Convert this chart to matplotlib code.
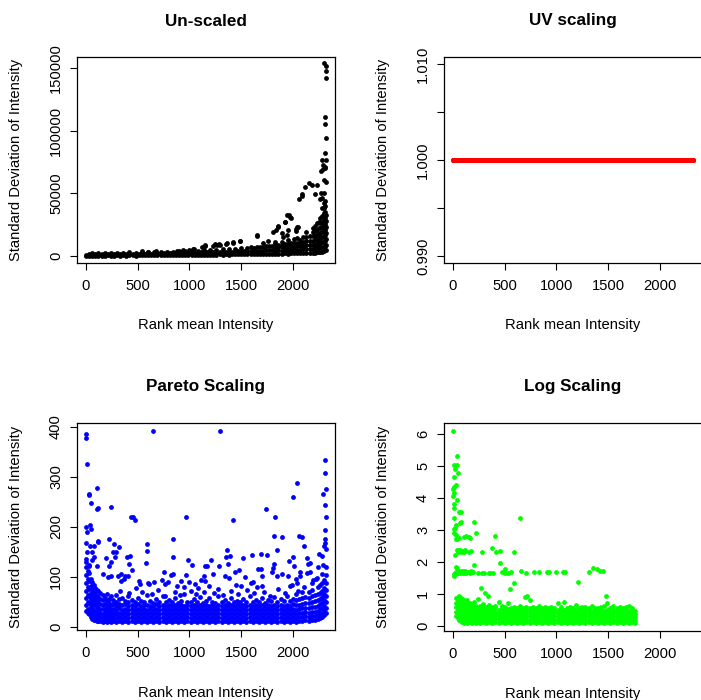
import numpy as np
import matplotlib
matplotlib.use("Agg")
import matplotlib.pyplot as plt

plt.rcParams['font.family'] = ['Liberation Sans', 'DejaVu Sans']

# ranks of the features (x axis of every panel)
n_features = 2320

titles = ["Un-scaled", "UV scaling", "Pareto Scaling", "Log Scaling"]
x_label = "Rank mean Intensity"
y_label = "Standard Deviation of Intensity"

# ---- Un-scaled: dense band, "rank: sd sd ..." ----
unscaled_band = """
0: 0 800
30: 200 1200
60: 100 900 2000
90: 300 1300
120: 200 1100 2300
150: 300 1400
180: 200 1000 2100
210: 400 1500
240: 300 1200 2400
270: 200 1300
300: 400 1500 2600
330: 300 1200
360: 400 1600 2500
390: 300 1400
420: 500 1700 2800
450: 400 1500
480: 300 1300 2600
510: 500 1800
540: 400 1600 3000
570: 500 1700
600: 400 1500 2900
630: 600 1900
660: 500 1700 3100
690: 600 2000
720: 500 1800 3000
750: 700 2100
780: 600 1900 3300
810: 700 2200
840: 600 2000 3500
870: 800 2300
900: 700 2100 3600
930: 800 2400
960: 700 2200 3800
990: 900 2500
1020: 800 2400 4000
1050: 900 2600
1080: 800 2500 4200
1110: 1000 2800
1140: 900 2600 4500
1170: 1000 2900
1200: 900 2800 4700
1230: 1100 3000
1260: 1000 2900 5000
1290: 1200 3200
1320: 1100 3000 5200
1350: 1200 3300
1380: 1100 3100 5500
1410: 1300 3500
1440: 1200 3300 5800
1470: 1300 3600
1500: 1200 3500 6000
1530: 1400 3800
1560: 1300 3600 6300
1590: 1500 4000 6800
1620: 1400 3800 6500
1650: 1500 4200 7200
1680: 1600 4000 7000
1710: 1500 4300 7500
1740: 1700 4500 7800
1770: 1600 4400 7600
1800: 1800 4800 8200
1830: 1700 4200 6800 9500 11000
1860: 1900 4500 7000 8500
1890: 1800 4300 6800 9000 11500
1920: 2000 4600 7200 9600
1950: 1900 4500 7000 9500 12500
1980: 2100 4800 7500 10000
2010: 2000 4700 7400 10000 13500
2040: 2200 5000 7800 10500 14500
2070: 2100 4800 7600 10400 13000
2100: 2300 5200 8200 11200 15000
2130: 2400 5400 8500 11600 15000 19000
2160: 2500 5500 8600 11800 16000
2190: 2600 5600 8800 12200 15800 19500 22000
2210: 2700 5800 9000 12500 16000 20000 24000
2230: 2800 6000 9400 13000 16800 21000 26000
2250: 3000 6300 9800 13500 17500 22000 27000
2265: 3200 6600 10200 14000 18000 22000 26000 30000
2280: 3500 7000 10800 14800 19000 23000 27500 32000 38000
2295: 4000 7500 11500 15500 20000 24500 29000 34000 38000 42000
2310: 4500 8000 12000 16500 21000 25500 30000 35000 40000 44000
2320: 5000 9000 13500 18000 23000 28000 33000
"""
unscaled_rank = [2302, 2315, 2321, 2318, 2309, 2309, 2318, 2312, 2283, 2318,
                 2313, 2305, 2289, 2267, 2286, 2296, 2318, 2231, 2154, 2119,
                 2084, 2061, 2183, 2267, 2277, 2302, 2215, 2260, 2090,
                 1964, 1980, 1922, 1858, 1832, 1803, 2045, 2026, 1945, 1974,
                 1919, 1851, 2035, 2029, 1955, 1945, 1649, 1652, 1488, 1423,
                 1758, 1706, 1897, 1900, 1359, 1294, 1262, 1230, 1150, 1117,
                 1037, 998, 1484, 1417, 1356, 1288, 1243, 1147, 1040, 937,
                 676, 880, 540, 600]
unscaled_sd = [153800, 152000, 147900, 142000, 111000, 105500, 94400, 82400,
               76600, 76800, 70200, 71000, 72400, 67600, 69200, 60400, 59000,
               56600, 58300, 55300, 49200, 45700, 56400, 50500, 46500, 50000,
               49200, 45700, 48000,
               32500, 30100, 27100, 23900, 20700, 19400, 23100, 21300, 32400,
               30800, 27300, 23400, 23000, 19800, 20700, 16400, 16400, 16200,
               12200, 11200, 11700, 10600, 18100, 15500, 10600, 8800, 9000,
               8000, 8000, 7400, 5300, 4800, 12200, 10600, 9800, 9300, 9300,
               8800, 5600, 4800, 4200, 4000, 3600, 3300]

# ---- Pareto scaling ----
pareto_band = """
0: 31 44 58 72 88 104 120 136
15: 27 36 50 64 80 96 112
30: 25 33 47 61 76 92 108 124
45: 20 30 42 55 68 82 96
60: 16 26 38 50 62 75 90
75: 14 24 34 46 58 70 84
90: 13 21 31 43 54 66 78
105: 12 20 29 40 51 62 74
120: 11 19 28 38 48 59 71
140: 12 20 27 36 46 56 67
160: 10 18 26 35 44 54 63
180: 11 19 27 36 45 58
200: 10 17 25 33 42 52 66
220: 12 20 28 37 47 56
240: 10 18 26 34 44 61
260: 11 19 27 35 45 53
290: 10 17 25 33 42 50 64
320: 12 20 28 37 46 55
350: 10 18 26 34 43 57
380: 11 19 27 36 45 52
410: 10 17 25 33 41 49 62
440: 12 19 27 35 44 54
470: 10 18 26 34 42 50
500: 11 20 28 36 45 58
530: 10 17 25 33 41 52
560: 12 19 27 35 44 50
590: 10 18 26 34 43 63
620: 11 19 27 35 42 51
650: 10 17 25 33 41 48
680: 12 20 28 36 45 56
710: 10 18 26 34 42 50
740: 11 19 27 35 44 61
770: 10 17 25 33 41 49
800: 12 20 28 36 44 53
830: 10 18 26 34 42 50
860: 11 19 27 35 43 58
890: 10 17 25 33 41 48
920: 12 20 28 36 44 52
950: 10 18 26 34 42 65
980: 11 19 27 35 43 50
1010: 10 17 25 33 41 49
1040: 12 20 28 36 44 55
1070: 10 18 26 34 42 50
1100: 11 19 27 35 43 60
1130: 10 17 25 33 41 48
1160: 12 20 28 36 44 52
1190: 10 18 26 34 42 57
1220: 11 19 27 35 43 50
1250: 9 17 25 33 41 48
1280: 12 20 28 36 44 62
1310: 10 18 26 34 42 50
1340: 11 19 27 35 43 53
1370: 10 17 25 33 41 48
1400: 12 20 28 36 44 58
1430: 10 18 26 34 42 50
1460: 11 19 27 35 43 52
1490: 10 17 25 33 41 49
1520: 12 20 28 36 44 56
1550: 10 18 26 34 42 50
1580: 11 19 27 35 43 61
1610: 10 17 25 33 41 49
1640: 12 20 28 36 44 53
1670: 10 18 26 34 42 50
1700: 11 19 27 35 43 58
1730: 10 17 25 33 41 48
1760: 12 20 28 36 44 54
1790: 10 18 26 34 42 52
1820: 11 19 27 35 43 60
1850: 10 17 25 33 41 50
1880: 12 20 28 36 44 55
1910: 10 18 26 34 42 52
1940: 11 19 27 35 44 62
1970: 10 17 25 33 42 51
2000: 12 20 28 36 45 56
2030: 10 18 26 34 43 53 66
2060: 11 19 27 35 44 55
2090: 12 20 28 37 46 57 69
2120: 13 21 29 38 48 60
2150: 12 20 28 37 47 58 70
2180: 14 22 30 39 49 61 74
2210: 13 21 30 40 51 63
2240: 15 23 32 42 53 66 80
2260: 18 26 35 45 56 68 84
2280: 20 28 38 48 60 72 88
2300: 24 32 42 54 66 78 94
2315: 28 38 50 62 74 88 104 120
"""
pareto_rank = [0, 0, 7, 106, 32, 30, 45, 113, 110, 239, 647, 432, 454, 476,
               969, 3, 39, 10, 48, 219, 840, 589, 586, 576, 843, 988, 1024,
               3, 116, 119, 77, 42, 10, 58, 267, 316, 293, 261, 190, 283, 245,
               219, 106, 80, 55, 3, 29, 396, 425, 412, 444, 341, 338, 380, 406,
               312, 512, 525, 609, 654, 734, 766, 821, 837, 879, 921, 963, 992,
               1056, 1111, 1153, 1153, 750, 167, 209, 242,
               1294, 1423, 1742, 1829, 1999, 2035, 2312, 2312, 2315, 2292,
               2308, 2318, 2312, 2312, 2305, 2299, 2318, 2054, 2090, 1816,
               1890, 2106, 1848, 1365, 1391, 1352, 1520, 1603, 1693, 1745,
               1207, 1172, 1281, 1371, 1481, 1439, 1661, 1687, 1813, 1803,
               1964, 1996, 2012, 2135, 2164, 2148, 2251, 2276, 2286, 2244,
               1230, 1140, 1343, 1384, 1536, 1494, 1590, 1616, 1700, 1700,
               1793, 1842, 1890, 1954, 2028, 2067, 2067, 2131, 2164, 2196,
               2228, 2276, 1970, 2035,
               330, 365, 420, 480, 545, 600, 640, 700, 760, 790, 860, 905,
               950, 1010, 1060, 1085, 1140, 1190, 1240, 1275, 1320, 1400,
               1450, 1470, 1560, 1620, 1650, 1720, 1780, 1860, 1920, 1990,
               2050, 2110, 2180, 2220]
pareto_sd = [385, 377, 325, 277, 266, 263, 247, 237, 235, 239, 391, 220, 219,
             214, 219, 199, 203, 189, 195, 175, 175, 165, 151, 128, 139, 133,
             123, 168, 172, 169, 162, 161, 149, 150, 166, 159, 149, 149, 137,
             139, 129, 122, 121, 139, 134, 130, 121, 139, 141, 125, 113, 106,
             91, 101, 102, 101, 91, 86, 85, 89, 93, 86, 103, 105, 82, 92, 103,
             90, 86, 94, 121, 91, 110, 106, 99, 101,
             391, 214, 235, 219, 260, 287, 334, 307, 276, 265, 243, 219, 194,
             176, 167, 161, 155, 182, 179, 182, 179, 162, 154, 154, 142, 139,
             137, 143, 145, 143, 133, 122, 122, 125, 114, 110, 115, 115, 126,
             117, 131, 139, 121, 138, 127, 125, 146, 141, 123, 119, 105, 102,
             102, 97, 99, 82, 87, 89, 102, 82, 110, 102, 106, 101, 95, 101,
             109, 107, 110, 94, 97, 105, 81, 87,
             72, 95, 68, 78, 70, 88, 66, 74, 62, 90, 70, 64,
             80, 72, 66, 78, 70, 82, 68, 76, 64, 72,
             84, 66, 74, 68, 80, 70, 62, 76, 68, 84,
             72, 80, 88, 96]

# ---- Log scaling ----
log_band = """
30: 0.30 0.45 0.58 0.72 0.86
45: 0.25 0.38 0.50 0.64 0.78 0.92
60: 0.20 0.32 0.44 0.56 0.68 0.80 0.95
75: 0.15 0.27 0.39 0.51 0.63 0.75 0.88
90: 0.12 0.24 0.36 0.48 0.60 0.72 0.84
105: 0.10 0.22 0.34 0.46 0.58 0.70 0.82
120: 0.11 0.23 0.35 0.47 0.59 0.71
140: 0.10 0.21 0.33 0.45 0.57 0.68 0.80
160: 0.12 0.24 0.36 0.48 0.60 0.72
180: 0.10 0.22 0.34 0.46 0.58 0.66
200: 0.11 0.23 0.35 0.47 0.59 0.75
220: 0.10 0.21 0.32 0.43 0.55 0.64
240: 0.12 0.23 0.34 0.45 0.56 0.85
260: 0.10 0.21 0.32 0.43 0.54 0.62
290: 0.11 0.22 0.33 0.44 0.55 0.70
320: 0.10 0.21 0.32 0.43 0.52 0.60
350: 0.12 0.23 0.34 0.45 0.56 0.66
380: 0.10 0.21 0.32 0.43 0.51 0.58
410: 0.11 0.22 0.33 0.44 0.55 0.63
440: 0.10 0.21 0.32 0.42 0.50 0.76
470: 0.12 0.23 0.34 0.45 0.55 0.62
500: 0.10 0.21 0.32 0.42 0.50 0.58
530: 0.11 0.22 0.33 0.44 0.54 0.72
560: 0.10 0.21 0.31 0.41 0.49 0.57
590: 0.12 0.22 0.32 0.42 0.52 0.60
620: 0.10 0.20 0.30 0.40 0.48 0.56
650: 0.11 0.21 0.31 0.41 0.50 0.62
680: 0.10 0.20 0.30 0.40 0.49 0.55
710: 0.12 0.22 0.32 0.42 0.51 0.59
740: 0.10 0.20 0.30 0.40 0.48 0.57
770: 0.11 0.21 0.31 0.41 0.50 0.58
800: 0.10 0.20 0.30 0.40 0.49 0.56
830: 0.12 0.22 0.32 0.42 0.51 0.63
860: 0.10 0.20 0.30 0.40 0.48 0.55
890: 0.11 0.21 0.31 0.41 0.50 0.58
920: 0.10 0.20 0.30 0.40 0.49 0.57
950: 0.12 0.22 0.32 0.42 0.51 0.60
980: 0.10 0.20 0.30 0.40 0.48 0.55
1010: 0.11 0.21 0.31 0.41 0.50 0.72
1040: 0.10 0.20 0.30 0.40 0.49 0.58
1070: 0.12 0.22 0.32 0.42 0.51 0.74
1100: 0.10 0.20 0.30 0.40 0.48 0.56
1130: 0.11 0.21 0.31 0.41 0.50 0.59
1160: 0.10 0.20 0.30 0.40 0.49 0.55
1190: 0.12 0.22 0.32 0.42 0.51 0.66
1220: 0.10 0.20 0.30 0.40 0.48 0.57
1250: 0.11 0.21 0.31 0.41 0.50 0.60
1280: 0.10 0.20 0.30 0.40 0.49 0.58
1310: 0.12 0.22 0.32 0.42 0.51 0.56
1340: 0.10 0.20 0.30 0.40 0.48 0.62
1370: 0.11 0.21 0.31 0.41 0.50 0.57
1400: 0.10 0.20 0.30 0.40 0.49 0.55
1430: 0.12 0.22 0.32 0.42 0.51 0.60
1460: 0.10 0.20 0.30 0.40 0.48 0.64
1490: 0.11 0.21 0.31 0.41 0.50 0.72
1520: 0.10 0.20 0.30 0.40 0.49 0.57
1550: 0.12 0.22 0.32 0.42 0.51 0.63
1580: 0.10 0.20 0.30 0.40 0.48 0.56
1610: 0.11 0.21 0.31 0.41 0.50 0.58
1640: 0.10 0.20 0.30 0.40 0.49 0.55
1670: 0.12 0.22 0.32 0.42 0.51 0.60
1700: 0.10 0.20 0.30 0.40 0.48 0.63
1730: 0.11 0.21 0.31 0.41 0.50 0.56
1755: 0.08 0.18 0.28 0.38 0.48
"""
log_rank = [3, 42, 6, 39, 19, 48, 6, 13, 26, 3, 6, 3, 42, 6, 10, 55, 74, 6,
            74, 64, 32, 22, 10, 200, 225, 10, 26, 650, 58, 42, 26, 106, 126,
            155, 164, 402, 19, 277, 373, 412, 457, 586, 206, 29, 42, 457, 502,
            10, 10, 589, 551, 274, 312, 341, 699, 715, 744, 1204, 1478, 1314,
            1349, 1388, 1420, 1446, 992, 1082, 786, 828, 905, 924, 657, 705,
            1066, 245, 283, 300, 345, 362, 385, 470, 500, 530, 560,
            # row near 2.35
            38, 46, 54, 62, 70, 78, 86, 94, 102, 110, 118, 150, 178,
            # row near 1.68
            20, 28, 36, 44, 52, 60, 68, 76, 84, 92, 100, 110, 120, 130,
            140, 150, 160, 170, 180, 192]
log_sd = [6.08, 5.32, 5.03, 5.04, 4.91, 4.78, 4.65, 4.35, 4.40, 4.29, 4.15,
          4.06, 3.92, 3.81, 3.70, 3.57, 3.56, 3.36, 3.24, 3.21, 3.16, 3.07,
          3.02, 3.24, 2.92, 2.90, 2.84, 3.36, 2.75, 2.73, 2.72, 2.79, 2.81,
          2.79, 2.76, 2.81, 2.23, 2.31, 2.44, 2.31, 2.34, 2.30, 1.90, 1.85,
          1.80, 1.96, 1.79, 1.62, 1.56, 1.33, 1.15, 1.20, 1.02, 0.94, 0.92,
          0.95, 0.81, 1.36, 0.95, 1.69, 1.81, 1.77, 1.73, 1.73, 1.69, 1.70,
          1.70, 1.69, 1.68, 1.68, 1.73, 1.67, 1.70, 1.67, 1.67, 1.66, 1.65,
          1.67, 1.66, 1.68, 1.67, 1.66, 1.68,
          2.36, 2.32, 2.38, 2.33, 2.36, 2.31, 2.35, 2.30, 2.34, 2.32, 2.36,
          2.30, 2.35,
          1.66, 1.70, 1.64, 1.72, 1.67, 1.70, 1.65, 1.73, 1.68, 1.66, 1.71,
          1.67, 1.72, 1.65, 1.69, 1.70, 1.66, 1.73, 1.68, 1.70]


def read_band(text):
    ranks, sds = [], []
    for line in text.strip().splitlines():
        r, vals = line.split(":")
        for v in vals.split():
            ranks.append(float(r))
            sds.append(float(v))
    return np.array(ranks), np.array(sds)


ub_r, ub_s = read_band(unscaled_band)
pb_r, pb_s = read_band(pareto_band)
lb_r, lb_s = read_band(log_band)

uv_rank = np.arange(1, n_features + 1)
uv_sd = np.ones(n_features)

fig = plt.figure(figsize=(7.01, 7.0), dpi=100)
W, H = 701.0, 700.0


def make_ax(left, top, right, bottom):
    return fig.add_axes([left / W, 1 - bottom / H, (right - left) / W, (bottom - top) / H])


axes = [make_ax(77, 57, 335, 263), make_ax(444, 57, 702, 263),
        make_ax(77, 423, 335, 630), make_ax(444, 423, 702, 631)]

dot = 12
a = axes[0]
a.scatter(np.concatenate([ub_r, unscaled_rank]), np.concatenate([ub_s, unscaled_sd]),
          s=dot, c='black', linewidths=0)
a.set_ylim(-5590, 158800)
a.set_yticks([0, 50000, 100000, 150000])

a = axes[1]
a.scatter(uv_rank, uv_sd, s=dot, c='#ff0000', linewidths=0)
a.set_ylim(0.98927, 1.01073)
a.set_yticks([0.990, 0.995, 1.000, 1.005, 1.010])
a.set_yticklabels(['0.990', '', '1.000', '', '1.010'])

a = axes[2]
a.scatter(np.concatenate([pb_r, pareto_rank]), np.concatenate([pb_s, pareto_sd]),
          s=dot, c='#0000ff', linewidths=0)
a.set_ylim(-7, 408)
a.set_yticks([0, 100, 200, 300, 400])

a = axes[3]
a.scatter(np.concatenate([lb_r, log_rank]), np.concatenate([lb_s, log_sd]),
          s=dot, c='#00ff00', linewidths=0)
a.set_ylim(-0.156, 6.34)
a.set_yticks([0, 1, 2, 3, 4, 5, 6])

fs = 10.6
for i, a in enumerate(axes):
    a.set_xlim(-87, 2406)
    a.set_xticks([0, 500, 1000, 1500, 2000])
    for sp in a.spines.values():
        sp.set_linewidth(0.9)
    a.tick_params(length=5, width=0.8, labelsize=fs, direction='out')
    a.tick_params(axis='x', pad=6.5)
    a.tick_params(axis='y', pad=5, labelrotation=90)
    for lab in a.get_yticklabels():
        lab.set_va('center')
    a.set_title(titles[i], fontsize=12.3, fontweight='bold', y=1 + 36 / (263 - 57),
                va='center', pad=0)
    a.set_xlabel(x_label, fontsize=fs, va='center')
    a.set_ylabel(y_label, fontsize=fs, va='center')
    h = 206.0 if i < 2 else 207.0
    a.xaxis.set_label_coords(0.5, -62.5 / h)
    a.yaxis.set_label_coords(-60.5 / 258, 0.5)

fig.savefig("out.png", dpi=100)
